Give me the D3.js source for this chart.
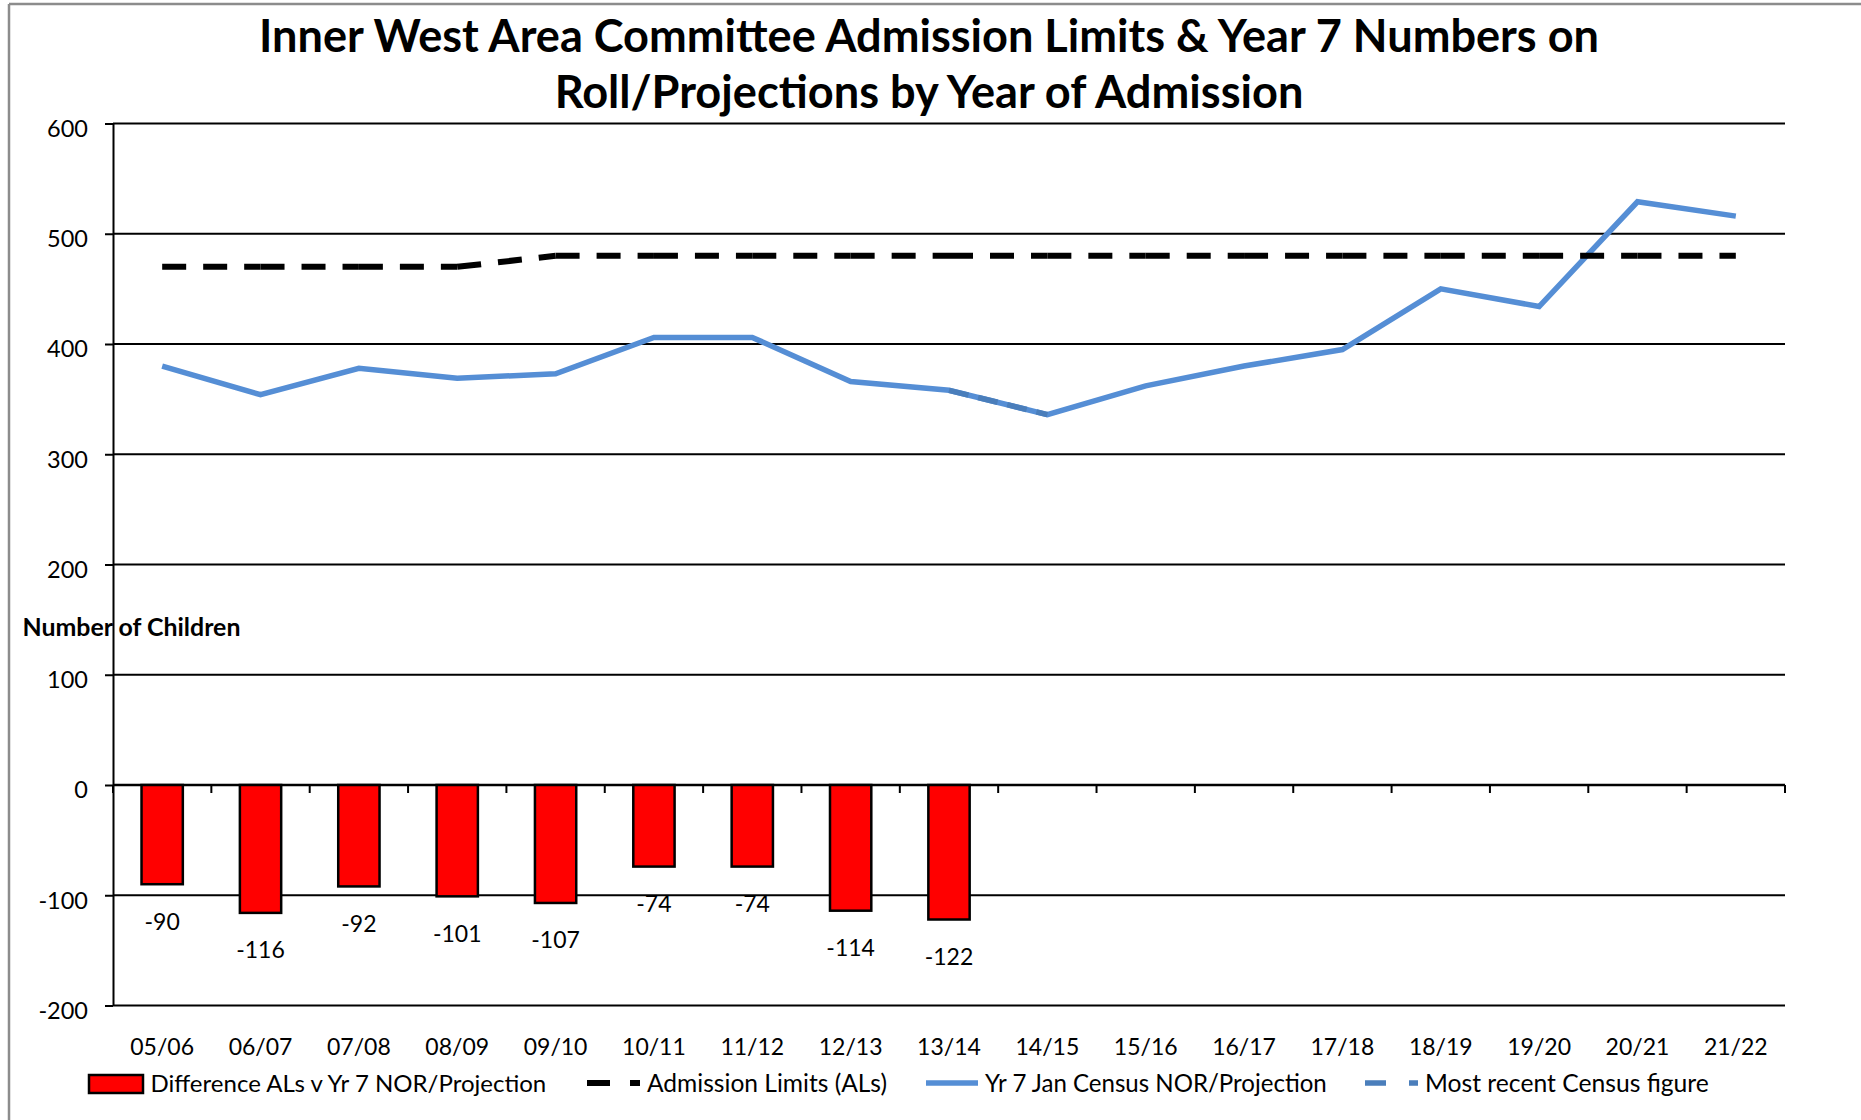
<!DOCTYPE html>
<html><head><meta charset="utf-8">
<script src="https://cdn.jsdelivr.net/npm/d3@7"></script>
<style>
body{margin:0;background:#fff;}
svg{display:block;}
text{font-family:Lato,'Open Sans','DejaVu Sans',sans-serif;fill:#000;}
</style>
</head><body>
<svg id="chart" width="1861" height="1120"></svg>
<script>
// ---------- DATA ----------
const categories = ["05/06","06/07","07/08","08/09","09/10","10/11","11/12","12/13","13/14","14/15","15/16","16/17","17/18","18/19","19/20","20/21","21/22"];
const admissionLimits = [470,470,470,470,480,480,480,480,480,480,480,480,480,480,480,480,480];
const yr7Nor = [380,354,378,369,373,406,406,366,358,336,362,380,395,450,434,529,516];
const recentCensus = [null,null,null,null,null,null,null,null,358,336,null,null,null,null,null,null,null];
const difference = [-90,-116,-92,-101,-107,-74,-74,-114,-122,null,null,null,null,null,null,null,null];
const yTicks = [-200,-100,0,100,200,300,400,500,600];
const titleLines = ["Inner West Area Committee Admission Limits & Year 7 Numbers on","Roll/Projections by Year of Admission"];
const yAxisTitle = "Number of Children";
const legendLabels = ["Difference ALs v Yr 7 NOR/Projection","Admission Limits (ALs)","Yr 7 Jan Census NOR/Projection","Most recent Census figure"];

// ---------- LAYOUT ----------
const W = 1861, H = 1120;
const plot = {left:113, right:1785, top:123.5, bottom:1005.5};
const svg = d3.select("#chart");

const x = d3.scaleBand().domain(categories).range([plot.left, plot.right]).padding(0);
const y = d3.scaleLinear().domain([-200,600]).range([plot.bottom, plot.top]);
const cx = c => x(c) + x.bandwidth()/2;

function fit(t, w){
  const l = t.node().getComputedTextLength();
  const fs = parseFloat(t.attr("font-size"));
  t.attr("font-size", (fs*w/l).toFixed(2));
}

// outer frame (grey, top & left)
svg.append("line").attr("x1",9).attr("x2",W).attr("y1",4).attr("y2",4).attr("stroke","#8c8c8c").attr("stroke-width",2.5);
svg.append("line").attr("x1",9).attr("x2",9).attr("y1",4).attr("y2",H).attr("stroke","#8c8c8c").attr("stroke-width",2.5);

// title
const titleBase = [52,108];
const titleW = [1340,749];
titleLines.forEach((t,i)=>{
  const tt = svg.append("text").attr("x",929).attr("y",titleBase[i]).attr("text-anchor","middle")
    .attr("font-weight","bold").attr("font-size",42).text(t);
  fit(tt, titleW[i]);
});

// gridlines
svg.append("g").selectAll("line").data(yTicks).join("line")
  .attr("x1",plot.left).attr("x2",plot.right)
  .attr("y1",d=>y(d)).attr("y2",d=>y(d))
  .attr("stroke","#000").attr("stroke-width",2);

// y axis
const yAxis = d3.axisLeft(y).tickValues(yTicks).tickSize(8).tickSizeOuter(0).tickPadding(17).tickFormat(d=>String(d));
const gy = svg.append("g").attr("transform",`translate(${plot.left},0)`).call(yAxis);
gy.select(".domain").attr("stroke","#000").attr("stroke-width",2);
gy.selectAll(".tick line").attr("stroke","#000").attr("stroke-width",2);
gy.selectAll(".tick text").attr("font-size",23.5).attr("font-family",null).attr("fill","#000").attr("dy","0.55em");

// x axis ticks at band boundaries on the zero line
const bounds = categories.map(c=>x(c)).concat([plot.right]);
svg.append("g").selectAll("line").data(bounds).join("line")
  .attr("x1",d=>d).attr("x2",d=>d).attr("y1",y(0)).attr("y2",y(0)+8)
  .attr("stroke","#000").attr("stroke-width",2);
svg.append("line").attr("x1",plot.left).attr("x2",plot.right).attr("y1",y(0)).attr("y2",y(0)).attr("stroke","#000").attr("stroke-width",2.5);

// x labels
svg.append("g").selectAll("text").data(categories).join("text")
  .attr("x",d=>cx(d)).attr("y",1047).attr("dy","0.36em").attr("text-anchor","middle")
  .attr("font-size",23).text(d=>d);

// bars
const barW = x.bandwidth()*0.42;
const barData = categories.map((c,i)=>({c, v:difference[i]})).filter(d=>d.v!=null);
svg.append("g").selectAll("rect").data(barData).join("rect")
  .attr("x",d=>cx(d.c)-barW/2).attr("width",barW)
  .attr("y",d=>y(Math.max(0,d.v))).attr("height",d=>Math.abs(y(d.v)-y(0)))
  .attr("fill","#ff0000").attr("stroke","#000").attr("stroke-width",2.5);
svg.append("g").selectAll("text").data(barData).join("text")
  .attr("x",d=>cx(d.c)).attr("y",d=>y(d.v)+37).attr("dy","0.36em").attr("text-anchor","middle")
  .attr("font-size",23).text(d=>String(d.v));

// y axis title
const yt = svg.append("text").attr("x",22.5).attr("y",627).attr("dy","0.36em")
  .attr("font-weight","bold").attr("font-size",21).text(yAxisTitle);
fit(yt, 218);

// lines
function segs(vals){
  const out=[];
  for(let i=0;i<vals.length-1;i++){
    if(vals[i]!=null && vals[i+1]!=null) out.push([[cx(categories[i]),y(vals[i])],[cx(categories[i+1]),y(vals[i+1])]]);
  }
  return out;
}
const lineGen = d3.line().defined(d=>d[1]!=null).x(d=>cx(d[0])).y(d=>y(d[1]));

// blue solid line
svg.append("path").datum(categories.map((c,i)=>[c,yr7Nor[i]]))
  .attr("d",lineGen).attr("fill","none").attr("stroke","#558ed5").attr("stroke-width",5.5);

// most recent census (darker blue dashed, per segment)
svg.append("g").selectAll("path").data(segs(recentCensus)).join("path")
  .attr("d",d=>d3.line()(d)).attr("fill","none").attr("stroke","#4a7ebb").attr("stroke-width",5.5)
  .attr("stroke-dasharray","20,10");

// admission limits (black dashed, per segment so pattern restarts at each point)
svg.append("g").selectAll("path").data(segs(admissionLimits)).join("path")
  .attr("d",d=>d3.line()(d)).attr("fill","none").attr("stroke","#000").attr("stroke-width",6)
  .attr("stroke-dasharray","24,17");

// legend
const ly = 1083;
const lg = svg.append("g");
lg.append("rect").attr("x",89).attr("y",1075).attr("width",54).attr("height",18)
  .attr("fill","#ff0000").attr("stroke","#000").attr("stroke-width",2.5);
lg.append("line").attr("x1",587).attr("x2",640).attr("y1",ly).attr("y2",ly)
  .attr("stroke","#000").attr("stroke-width",6).attr("stroke-dasharray","23,20");
lg.append("line").attr("x1",926).attr("x2",978).attr("y1",ly).attr("y2",ly)
  .attr("stroke","#558ed5").attr("stroke-width",5.5);
lg.append("line").attr("x1",1365).attr("x2",1418).attr("y1",ly).attr("y2",ly)
  .attr("stroke","#4a7ebb").attr("stroke-width",5.5).attr("stroke-dasharray","21,23");
const legX = [150.5,647,985,1425];
const legW = [396,240,342,284];
legendLabels.forEach((t,i)=>{
  const tt = lg.append("text").attr("x",legX[i]).attr("y",ly).attr("dy","0.36em").attr("font-size",23).text(t);
  fit(tt, legW[i]);
});
</script>
</body></html>
